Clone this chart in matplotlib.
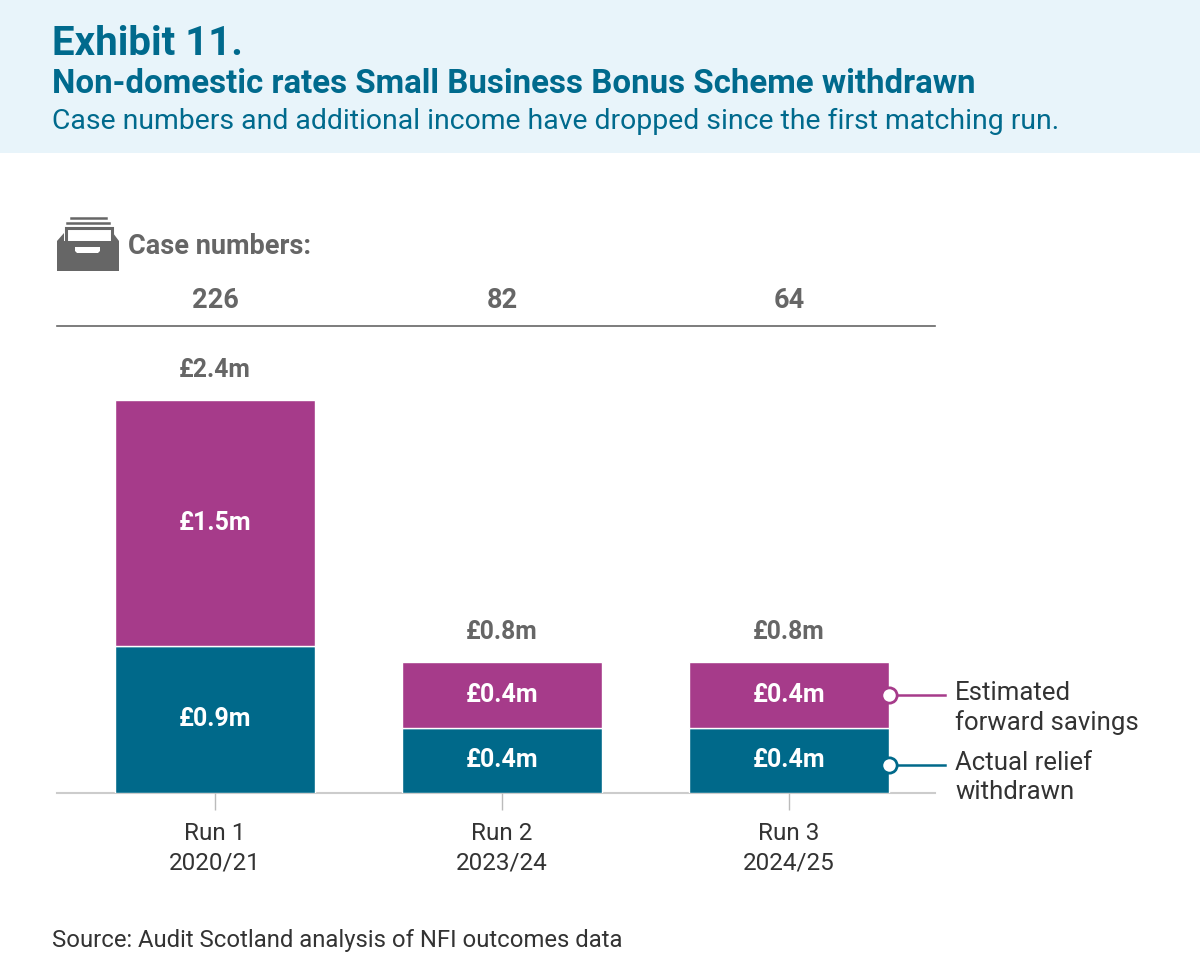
import matplotlib
matplotlib.use("Agg")
import matplotlib.pyplot as plt
from matplotlib.patches import Rectangle, Polygon
from matplotlib.transforms import Affine2D
import numpy as np

plt.rcParams['font.family'] = ['Roboto', 'DejaVu Sans']

# ---- data ----
runs = ["Run 1\n2020/21", "Run 2\n2023/24", "Run 3\n2024/25"]
actual_relief = [0.9, 0.4, 0.4]          # £m
forward_savings = [1.5, 0.4, 0.4]        # £m
totals = [2.4, 0.8, 0.8]                 # £m
case_numbers = [226, 82, 64]
series_names = ["Actual relief\nwithdrawn", "Estimated\nforward savings"]

TEAL = "#00698A"
MAGENTA = "#A63B8A"
GREY = "#666666"
DARK = "#333333"
HEAD = "#006A8D"

W, H = 1200, 967
fig = plt.figure(figsize=(W / 100, H / 100), dpi=100)
px = Affine2D().scale(1 / W, -1 / H).translate(0, 1) + fig.transFigure

# header band
fig.patches.append(Rectangle((0, 0), W, 153, transform=px, facecolor="#E8F4FA",
                             edgecolor="none", zorder=0))
fig.text(52, 55, "Exhibit 11.", transform=px, fontsize=29, fontweight="bold",
         color=HEAD, va="baseline", ha="left")
fig.text(52, 93, "Non-domestic rates Small Business Bonus Scheme withdrawn", transform=px,
         fontsize=23.8, fontweight="bold", color=HEAD, va="baseline", ha="left")
fig.text(52, 129, "Case numbers and additional income have dropped since the first matching run.",
         transform=px, fontsize=20.4, color=HEAD, va="baseline", ha="left")

# axes geometry
x_left_px, x_right_px = 57, 935
y_base_px, y_top_px = 793, 326
ax = fig.add_axes([x_left_px / W, (H - y_base_px) / H,
                   (x_right_px - x_left_px) / W, (y_base_px - y_top_px) / H])
unit_px = 287.0
ppu = 163.75
x = np.arange(len(runs))
ax.set_xlim(0 - (215 - x_left_px) / unit_px, 2 + (x_right_px - 789) / unit_px)
ax.set_ylim(0, (y_base_px - y_top_px) / ppu)
bw = 200 / unit_px

ax.bar(x, actual_relief, width=bw, color=TEAL, edgecolor="white", linewidth=1, zorder=2)
ax.bar(x, forward_savings, bottom=actual_relief, width=bw, color=MAGENTA,
       edgecolor="white", linewidth=1, zorder=2)

for xi, a, f, t in zip(x, actual_relief, forward_savings, totals):
    ax.text(xi, a / 2, f"£{a:.1f}m", ha="center", va="center", color="white",
            fontsize=18, fontweight="bold", zorder=3)
    ax.text(xi, a + f / 2, f"£{f:.1f}m", ha="center", va="center", color="white",
            fontsize=18, fontweight="bold", zorder=3)
    ax.text(xi, t + 30 / ppu, f"£{t:.1f}m", ha="center", va="center", color=GREY,
            fontsize=17.8, fontweight="bold", zorder=3)

for s in ax.spines.values():
    s.set_visible(False)
ax.axhline(0, color="#CCCCCC", linewidth=1.5, zorder=1, clip_on=False)
ax.set_yticks([])
ax.set_xticks(x)
ax.set_xticklabels(runs, fontsize=17.5, color=DARK, linespacing=1.35)
ax.tick_params(axis="x", length=12, width=1, color="#BBBBBB", pad=9)
ax.patch.set_alpha(0)

# case numbers row
fig.add_artist(plt.Line2D([57, 935], [326, 326], transform=px, color=GREY, linewidth=1.2))
for xi, n in zip(x, case_numbers):
    ax.text(xi, (y_base_px - 300) / ppu, str(n), ha="center", va="center",
            color=GREY, fontsize=19.5, fontweight="bold")
fig.text(128, 246, "Case numbers:", transform=px, fontsize=19.5, fontweight="bold",
         color=GREY, va="center", ha="left")

# icon (card file box)
ic = GREY
fig.add_artist(plt.Line2D([71, 106], [218, 218], transform=px, color=ic, linewidth=1.8))
fig.add_artist(plt.Line2D([67, 109], [223, 223], transform=px, color=ic, linewidth=1.8))
fig.patches.append(Rectangle((65.5, 227.5), 46, 16, transform=px, facecolor="white",
                             edgecolor=ic, linewidth=2.2))
fig.patches.append(Polygon([(57, 271), (57, 241), (64, 233), (64, 241), (113, 241),
                            (113, 233), (119, 241), (119, 271)], closed=True,
                           transform=px, facecolor=ic, edgecolor="none"))
fig.patches.append(Polygon([(75, 247), (100, 247), (100, 251), (98, 253), (77, 253), (75, 251)],
                           closed=True, transform=px, facecolor="white", edgecolor="none"))

# legend callouts attached to last bar
last = x[-1]
y_fwd = actual_relief[-1] + forward_savings[-1] / 2
y_act = actual_relief[-1] / 2 - 5 / ppu
bar_right = last + bw / 2
lx_end = bar_right + (945 - 889) / unit_px
for yv, col, name in [(y_fwd, MAGENTA, series_names[1]), (y_act, TEAL, series_names[0])]:
    ax.plot([bar_right, lx_end], [yv, yv], color=col, linewidth=1.8, clip_on=False, zorder=4)
    ax.plot([bar_right], [yv], marker="o", markersize=11, markerfacecolor="white",
            markeredgecolor=col, markeredgewidth=2, clip_on=False, zorder=5)
    ax.text(lx_end + 10 / unit_px, yv + 14 / ppu, name, ha="left", va="top", fontsize=18.5,
            color=DARK, linespacing=1.25, clip_on=False)

# source
fig.text(52, 947, "Source: Audit Scotland analysis of NFI outcomes data", transform=px,
         fontsize=17.2, color=DARK, va="baseline", ha="left")

fig.savefig("out.png", dpi=100)
